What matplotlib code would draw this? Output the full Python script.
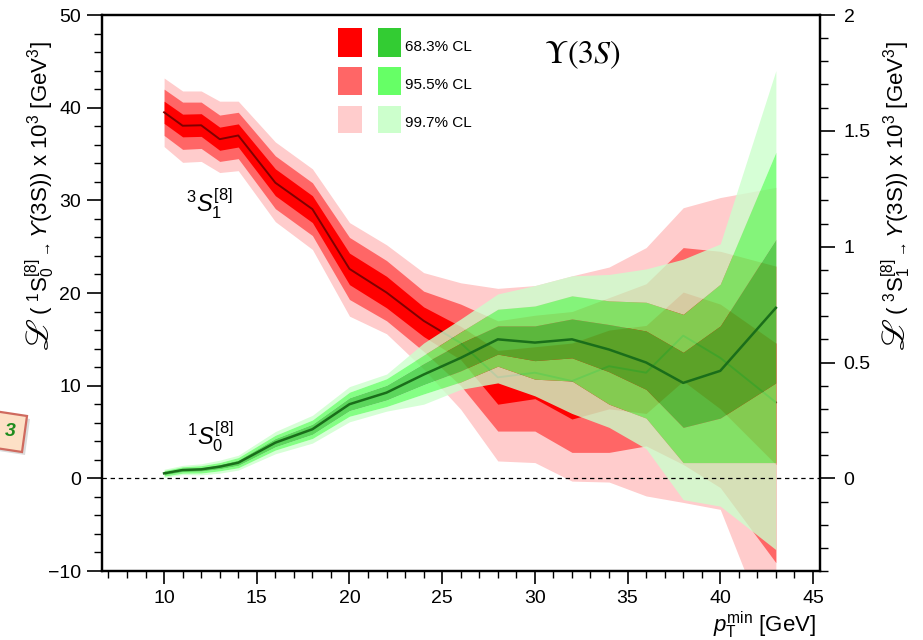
import matplotlib
matplotlib.use("Agg")
import matplotlib.pyplot as plt
from matplotlib.patches import Rectangle, Polygon
from matplotlib.ticker import MultipleLocator, FuncFormatter

plt.rcParams['font.family'] = ['Liberation Sans', 'DejaVu Sans']
plt.rcParams['mathtext.fontset'] = 'custom'
plt.rcParams['mathtext.rm'] = 'Liberation Sans'
plt.rcParams['mathtext.it'] = 'Liberation Sans:italic'
plt.rcParams['mathtext.bf'] = 'Liberation Sans:bold'
plt.rcParams['mathtext.sf'] = 'Liberation Sans'
plt.rcParams['mathtext.fallback'] = 'stix'

# pT^min scan points [GeV]
pt_min = [10, 11, 12, 13, 14, 16, 18, 20, 22, 24, 26, 28, 30, 32, 34, 36, 38, 40, 43]

# 3S1[8] LDME (right scale, x 10^3 GeV^3): central value and CL bands
s1_central = [1.580, 1.522, 1.524, 1.464, 1.480, 1.276, 1.162, 0.904, 0.802, 0.680,
              0.584, 0.436, 0.456, 0.420, 0.484, 0.456, 0.616, 0.520, 0.328]
s1_lo68 = [1.532, 1.474, 1.476, 1.416, 1.430, 1.220, 1.104, 0.836, 0.736, 0.612,
           0.512, 0.320, 0.344, 0.256, 0.300, 0.280, 0.420, 0.300, 0.060]
s1_hi68 = [1.628, 1.572, 1.574, 1.516, 1.530, 1.336, 1.220, 0.972, 0.872, 0.740,
           0.656, 0.552, 0.568, 0.584, 0.640, 0.660, 0.804, 0.752, 0.584]
s1_lo95 = [1.480, 1.420, 1.424, 1.368, 1.380, 1.164, 1.048, 0.772, 0.680, 0.548,
           0.400, 0.204, 0.204, 0.112, 0.112, 0.140, 0.060, -0.040, -0.364]
s1_hi95 = [1.680, 1.624, 1.624, 1.568, 1.580, 1.392, 1.276, 1.040, 0.940, 0.808,
           0.752, 0.680, 0.704, 0.720, 0.780, 0.840, 0.996, 0.980, 0.916]
s1_lo99 = [1.432, 1.364, 1.368, 1.320, 1.328, 1.108, 0.988, 0.700, 0.624, 0.472,
           0.298, 0.075, 0.068, -0.012, -0.016, -0.076, -0.104, -0.134, -0.740]
s1_hi99 = [1.728, 1.672, 1.672, 1.628, 1.628, 1.452, 1.336, 1.104, 1.008, 0.888,
           0.844, 0.820, 0.832, 0.874, 0.912, 0.996, 1.168, 1.212, 1.256]

# 1S0[8] LDME (left scale, x 10^3 GeV^3): central value and CL bands
s0_central = [0.54, 0.90, 0.97, 1.26, 1.69, 3.85, 5.30, 8.00, 9.25, 11.2,
              13.0, 15.0, 14.65, 15.0, 13.9, 12.5, 10.3, 11.6, 18.4]
s0_lo68 = [0.38, 0.72, 0.78, 1.03, 1.40, 3.40, 4.75, 7.30, 8.45, 10.1,
           11.6, 13.4, 12.7, 13.0, 11.5, 9.6, 5.5, 6.5, 10.3]
s0_hi68 = [0.70, 1.08, 1.16, 1.50, 1.98, 4.30, 5.85, 8.70, 10.05, 12.4,
           14.6, 16.45, 16.45, 17.2, 16.6, 15.9, 13.6, 16.45, 25.8]
s0_lo95 = [0.24, 0.55, 0.57, 0.81, 1.14, 3.05, 4.30, 6.70, 7.75, 9.1,
           10.4, 12.1, 10.7, 10.5, 8.0, 6.5, 1.7, 1.7, 1.7]
s0_hi95 = [0.84, 1.25, 1.37, 1.71, 2.24, 4.65, 6.30, 9.30, 10.75, 13.3,
           15.8, 18.25, 18.6, 19.7, 19.15, 19.0, 17.7, 20.95, 35.2]
s0_lo99 = [0.10, 0.40, 0.37, 0.56, 0.89, 2.65, 3.80, 6.10, 7.25, 8.0,
           9.6, 10.3, 8.9, 7.0, 5.5, 3.2, -2.3, -3.0, -7.7]
s0_hi99 = [0.98, 1.40, 1.57, 1.96, 2.49, 5.05, 6.80, 9.90, 11.25, 14.6,
           17.2, 19.9, 20.8, 21.85, 22.0, 22.6, 23.65, 25.3, 44.0]

cl_labels = ['68.3% CL', '95.5% CL', '99.7% CL']
red_cols = ['#ff0000', '#ff6666', '#ffcccc']
green_cols = ['#33cc33', '#66ff66', '#ccffcc']

W, H = 923, 640
fig = plt.figure(figsize=(W / 100, H / 100), dpi=100)
fig.patch.set_facecolor('white')


def fx(px):
    return px / W


def fy(py):
    return 1 - py / H


left, right, top, bottom = 102, 820, 15, 571
ax = fig.add_axes([fx(left), fy(bottom), fx(right - left), (bottom - top) / H])
ax2 = ax.twinx()
ax.set_zorder(ax2.get_zorder() + 1)
ax.patch.set_visible(False)

ax.set_xlim(6.65, 45.38)
ax.set_ylim(-10, 50)
ax2.set_ylim(-0.4, 2.0)

# 3S1 bands (opaque, right scale)
ax2.fill_between(pt_min, s1_lo99, s1_hi99, color=red_cols[2], lw=0)
ax2.fill_between(pt_min, s1_lo95, s1_hi95, color=red_cols[1], lw=0)
ax2.fill_between(pt_min, s1_lo68, s1_hi68, color=red_cols[0], lw=0)
ax2.plot(pt_min, s1_central, color='#800000', lw=1.4)

# 1S0 bands, drawn as translucent rings so that they blend as one layer
ga = 0.8
ax.fill_between(pt_min, s0_lo99, s0_lo95, color=green_cols[2], alpha=ga, lw=0)
ax.fill_between(pt_min, s0_hi95, s0_hi99, color=green_cols[2], alpha=ga, lw=0)
ax.fill_between(pt_min, s0_lo95, s0_lo68, color=green_cols[1], alpha=ga, lw=0)
ax.fill_between(pt_min, s0_hi68, s0_hi95, color=green_cols[1], alpha=ga, lw=0)
ax.fill_between(pt_min, s0_lo68, s0_hi68, color=green_cols[0], alpha=ga, lw=0)
ax.plot(pt_min, s0_central, color='#1a6e1a', lw=1.8)

ax.axhline(0, color='black', lw=0.9, ls=(0, (3.5, 3)))

# axes styling
for a in (ax, ax2):
    for s in a.spines.values():
        s.set_linewidth(1.6)
ax.xaxis.set_major_locator(MultipleLocator(5))
ax.xaxis.set_minor_locator(MultipleLocator(1))
ax.yaxis.set_major_locator(MultipleLocator(10))
ax.yaxis.set_minor_locator(MultipleLocator(2))
ax2.yaxis.set_major_locator(MultipleLocator(0.5))
ax2.yaxis.set_minor_locator(MultipleLocator(0.1))
ax2.yaxis.set_major_formatter(FuncFormatter(lambda v, p: '%g' % v))
ax.set_xticks(range(10, 46, 5))
ax.tick_params(axis='x', which='major', direction='out', length=9, width=1.2,
               labelsize=14, pad=5)
ax.tick_params(axis='x', which='minor', direction='out', length=5, width=1.0)
ax.tick_params(axis='y', which='major', direction='out', length=11, width=1.2,
               labelsize=14, pad=4)
ax.tick_params(axis='y', which='minor', direction='out', length=6, width=1.0)
ax2.tick_params(axis='y', which='major', direction='out', length=11, width=1.2,
                labelsize=14, pad=6)
ax2.tick_params(axis='y', which='minor', direction='out', length=6, width=1.0)


def ldme_title(xb, state):
    """Vertical axis title: large script L followed by the transition text."""
    fig.text(fx(xb), fy(349), 'ℒ', family=['STIXGeneral', 'DejaVu Sans'],
             fontsize=24, rotation=90, rotation_mode='anchor',
             ha='left', va='baseline')
    fig.text(fx(xb), fy(315),
             r'( $%s{}_{\rightarrow}ϒ\mathrm{(3S)})$ x 10$^{3}$ [GeV$^{3}$]' % state,
             fontsize=16, rotation=90, rotation_mode='anchor',
             ha='left', va='baseline')


ldme_title(48, r'^{1}\mathrm{S}_{0}^{[8]}')
ldme_title(904, r'^{3}\mathrm{S}_{1}^{[8]}')
fig.text(fx(816), fy(625), r'$p_{\mathrm{T}}^{\mathrm{min}}$ [GeV]',
         ha='right', va='center', fontsize=16)

# band labels and state
fig.text(fx(209), fy(204), r'$^{3}S_{1}^{[8]}$', ha='center', va='center', fontsize=17)
fig.text(fx(210), fy(437), r'$^{1}S_{0}^{[8]}$', ha='center', va='center', fontsize=17)
fig.text(fx(582), fy(55), r'$\Upsilon(3S)$', ha='center', va='center', fontsize=23,
         math_fontfamily='stix')

# confidence-level key
rows = [(28, 57), (67, 95), (106, 133)]
for (y0, y1), rc, gc, lab in zip(rows, red_cols, green_cols, cl_labels):
    fig.add_artist(Rectangle((fx(338), fy(y1)), (362 - 338) / W, (y1 - y0) / H,
                             transform=fig.transFigure, color=rc, lw=0))
    fig.add_artist(Rectangle((fx(378), fy(y1)), (401 - 378) / W, (y1 - y0) / H,
                             transform=fig.transFigure, color=gc, lw=0))
    fig.text(fx(405), fy(y1 - 10), lab, ha='left', va='center', fontsize=11)

# note card peeking in at the left edge
shadow = Polygon([(fx(-3), fy(414)), (fx(30), fy(419)), (fx(25), fy(455)), (fx(-8), fy(450))],
                 closed=True, transform=fig.transFigure, facecolor='#999999',
                 edgecolor='none', alpha=0.35)
card = Polygon([(fx(-6), fy(411)), (fx(27), fy(416)), (fx(22), fy(452)), (fx(-11), fy(447))],
               closed=True, transform=fig.transFigure, facecolor='#fde0c6',
               edgecolor='#cf6a5f', lw=1.6)
fig.add_artist(shadow)
fig.add_artist(card)
fig.text(fx(10), fy(432), '3', color='#1e8c1e', fontsize=14, fontweight='bold',
         ha='center', va='center', fontstyle='italic')

fig.savefig('out.png', dpi=100, facecolor='white')
